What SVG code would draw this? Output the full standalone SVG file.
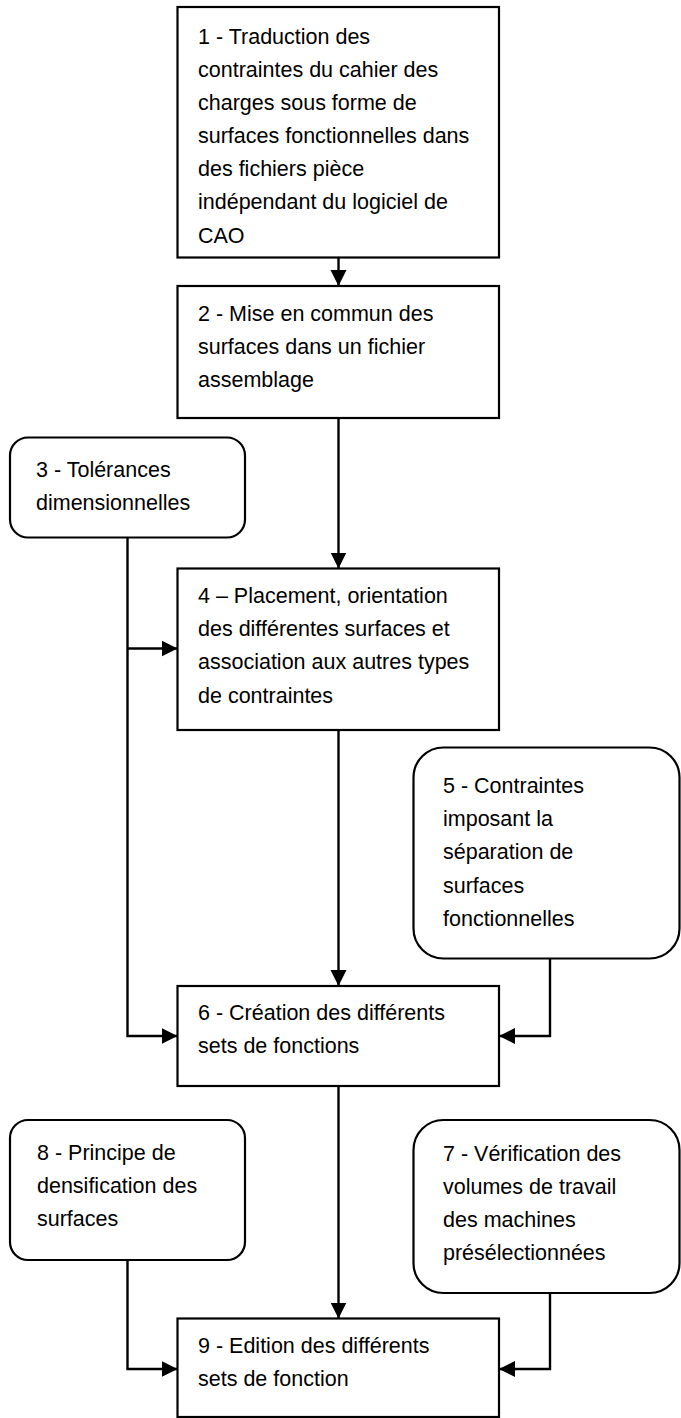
<svg xmlns="http://www.w3.org/2000/svg" width="681" height="1418" viewBox="0 0 681 1418">
  <style>
    .box { fill: #ffffff; stroke: #000000; stroke-width: 2.2; }
    .lbl { font-family: "Liberation Sans", Arial, sans-serif; font-size: 21.5px; fill: #000000; }
    .conn { fill: none; stroke: #000000; stroke-width: 2.4; }
  </style>
  <defs>
    <marker id="arrow" markerUnits="userSpaceOnUse" markerWidth="17" markerHeight="17" refX="16" refY="8" orient="auto">
      <path d="M0,0 L16,8 L0,16 Z" fill="#000000"/>
    </marker>
  </defs>
  <rect width="681" height="1418" fill="#ffffff"/>

  <g id="connectors">
    <path class="conn" d="M338.5 257.5 V286" marker-end="url(#arrow)"/>
    <path class="conn" d="M338.5 418 V568.5" marker-end="url(#arrow)"/>
    <path class="conn" d="M127.5 537.5 V1036 H177.5" marker-end="url(#arrow)"/>
    <path class="conn" d="M127.5 648.5 H177.5" marker-end="url(#arrow)"/>
    <path class="conn" d="M338.5 730 V986" marker-end="url(#arrow)"/>
    <path class="conn" d="M550 958.5 V1036 H499" marker-end="url(#arrow)"/>
    <path class="conn" d="M338.5 1086 V1318.5" marker-end="url(#arrow)"/>
    <path class="conn" d="M127.5 1260 V1369 H177.5" marker-end="url(#arrow)"/>
    <path class="conn" d="M550 1293 V1369 H499" marker-end="url(#arrow)"/>
  </g>

  <g id="n1">
    <rect class="box" x="177.5" y="7" width="321.5" height="250.5"/>
    <text class="lbl" x="198" y="43.5">1 - Traduction des</text>
    <text class="lbl" x="198" y="76.5">contraintes du cahier des</text>
    <text class="lbl" x="198" y="109.5">charges sous forme de</text>
    <text class="lbl" x="198" y="143">surfaces fonctionnelles dans</text>
    <text class="lbl" x="198" y="176">des fichiers pièce</text>
    <text class="lbl" x="198" y="209">indépendant du logiciel de</text>
    <text class="lbl" x="198" y="242.5">CAO</text>
  </g>

  <g id="n2">
    <rect class="box" x="177.5" y="286" width="321.5" height="132"/>
    <text class="lbl" x="198" y="321">2 - Mise en commun des</text>
    <text class="lbl" x="198" y="354">surfaces dans un fichier</text>
    <text class="lbl" x="198" y="387">assemblage</text>
  </g>

  <g id="n3">
    <rect class="box" x="10" y="437.5" width="235" height="100" rx="18" ry="18"/>
    <text class="lbl" x="36" y="476.5">3 - Tolérances</text>
    <text class="lbl" x="36" y="509.5">dimensionnelles</text>
  </g>

  <g id="n4">
    <rect class="box" x="177.5" y="568.5" width="321.5" height="161.5"/>
    <text class="lbl" x="198" y="602.5">4 – Placement, orientation</text>
    <text class="lbl" x="198" y="636">des différentes surfaces et</text>
    <text class="lbl" x="198" y="669">association aux autres types</text>
    <text class="lbl" x="198" y="702.5">de contraintes</text>
  </g>

  <g id="n5">
    <rect class="box" x="413.5" y="747.5" width="266" height="211" rx="30" ry="30"/>
    <text class="lbl" x="443" y="792.5">5 - Contraintes</text>
    <text class="lbl" x="443" y="826">imposant la</text>
    <text class="lbl" x="443" y="859">séparation de</text>
    <text class="lbl" x="443" y="892.5">surfaces</text>
    <text class="lbl" x="443" y="926">fonctionnelles</text>
  </g>

  <g id="n6">
    <rect class="box" x="177.5" y="986" width="321.5" height="100"/>
    <text class="lbl" x="198" y="1020">6 - Création des différents</text>
    <text class="lbl" x="198" y="1053">sets de fonctions</text>
  </g>

  <g id="n8">
    <rect class="box" x="10" y="1120" width="235" height="140" rx="18" ry="18"/>
    <text class="lbl" x="37" y="1160">8 - Principe de</text>
    <text class="lbl" x="37" y="1193">densification des</text>
    <text class="lbl" x="37" y="1226">surfaces</text>
  </g>

  <g id="n7">
    <rect class="box" x="413.5" y="1120" width="266" height="173" rx="30" ry="30"/>
    <text class="lbl" x="443" y="1161">7 - Vérification des</text>
    <text class="lbl" x="443" y="1194">volumes de travail</text>
    <text class="lbl" x="443" y="1227">des machines</text>
    <text class="lbl" x="443" y="1260">présélectionnées</text>
  </g>

  <g id="n9">
    <rect class="box" x="177.5" y="1318.5" width="321.5" height="98.5"/>
    <text class="lbl" x="198" y="1352.5">9 - Edition des différents</text>
    <text class="lbl" x="198" y="1386">sets de fonction</text>
  </g>
</svg>
